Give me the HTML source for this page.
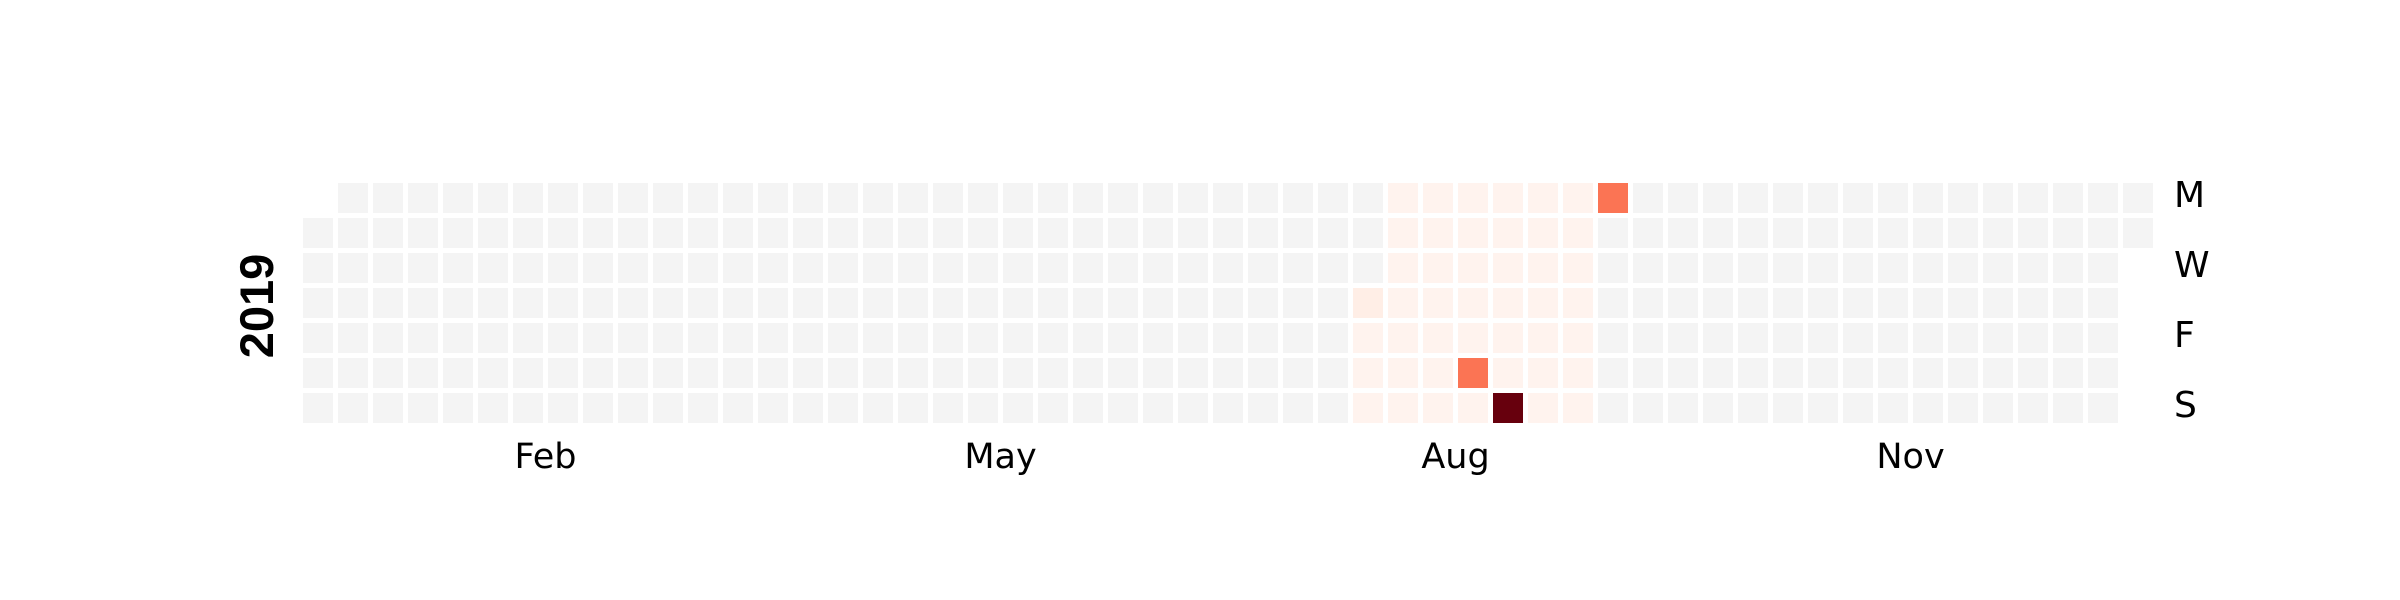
<!DOCTYPE html>
<html><head><meta charset="utf-8">
<style>
html,body{margin:0;padding:0;background:#fff;}
svg{display:block;font-family:"DejaVu Sans","Liberation Sans",sans-serif;}
</style></head>
<body>
<svg id="chart" width="2400" height="600" viewBox="0 0 2400 600" xmlns="http://www.w3.org/2000/svg">
<text x="0" y="0" transform="translate(273,306) rotate(-90)" text-anchor="middle" font-family="Liberation Sans, sans-serif" font-weight="bold" font-size="47" fill="#000">2019</text>
<g id="cells"></g>
<g id="labels"></g>
</svg>
<script>
const year = 2019;
// Daily values: days in the data range use baseValue unless listed in specialDates
const dataStart = [7, 1];   // Aug 1
const dataEnd = [8, 16];    // Sep 16
const baseValue = 1;
const specialDates = [[7,1],[7,24],[8,1],[8,16]];
const specialValues = [4,47,100,47];
const vmin = 0, vmax = 100;
const monthLabels = ["Feb","May","Aug","Nov"];
const monthTickCols = [6.5,19.5,32.5,45.5];
const dayLabels = ["M","W","F","S"];
const dayLabelRows = [0,2,4,6];

const x0 = 303, y0 = 183, pitch = 35, size = 30;
const colX = c => x0 + c*pitch;
const rowY = r => y0 + r*pitch;
const stops = ["#fff5f0","#fee0d2","#fcbba1","#fc9272","#fb6a4a","#ef3b2c","#cb181d","#a50f15","#67000d"];
function hex(h){return [1,3,5].map(i=>parseInt(h.substr(i,2),16));}
function reds(t){
  t=Math.max(0,Math.min(1,t));
  const p=t*(stops.length-1), i=Math.min(Math.floor(p),stops.length-2), f=p-i;
  const a=hex(stops[i]), b=hex(stops[i+1]);
  return "rgb("+a.map((v,k)=>Math.round(v+(b[k]-v)*f)).join(",")+")";
}
const NS="http://www.w3.org/2000/svg";
const cells=document.getElementById("cells");
const jan1=new Date(Date.UTC(year,0,1));
const startOffset=(jan1.getUTCDay()+6)%7; // Monday=0
const ds=Date.UTC(year,dataStart[0],dataStart[1]), de=Date.UTC(year,dataEnd[0],dataEnd[1]);
for(let d=0; d<365; d++){
  const t=Date.UTC(year,0,1+d);
  const dt=new Date(t);
  const idx=d+startOffset;
  const col=Math.floor(idx/7), row=idx%7;
  let fill="#f4f4f4";
  if(t>=ds && t<=de){
    let v=baseValue;
    specialDates.forEach((s,k)=>{ if(dt.getUTCMonth()===s[0] && dt.getUTCDate()===s[1]) v=specialValues[k]; });
    fill=reds((v-vmin)/(vmax-vmin));
  }
  const r=document.createElementNS(NS,"rect");
  r.setAttribute("x",colX(col)); r.setAttribute("y",rowY(row));
  r.setAttribute("width",size); r.setAttribute("height",size);
  r.setAttribute("fill",fill);
  
  
  cells.appendChild(r);
}
const labels=document.getElementById("labels");
monthLabels.forEach((m,i)=>{
  const t=document.createElementNS(NS,"text");
  t.setAttribute("x",colX(monthTickCols[i])+size/2);
  t.setAttribute("y",468);
  t.setAttribute("text-anchor","middle");
  t.setAttribute("font-size","35");
  t.textContent=m;
  
  
  labels.appendChild(t);
});
dayLabels.forEach((d,i)=>{
  const t=document.createElementNS(NS,"text");
  t.setAttribute("x",2174);
  t.setAttribute("y",rowY(dayLabelRows[i])+size/2+9);
  t.setAttribute("font-size","36");
  t.textContent=d;
  
  
  labels.appendChild(t);
});
</script>
</body></html>
